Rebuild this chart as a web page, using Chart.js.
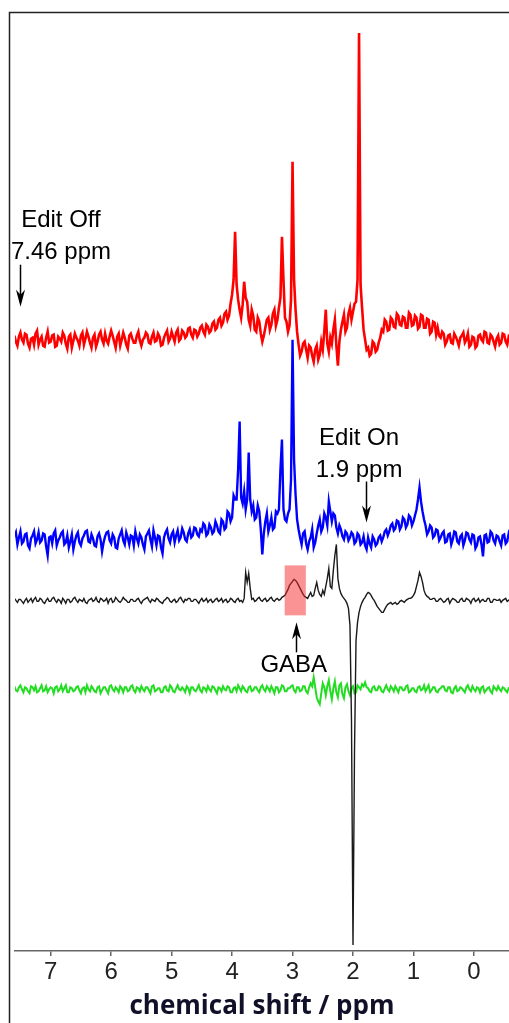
<!DOCTYPE html>
<html>
<head>
<meta charset="UTF-8">
<title>Edited MRS spectra</title>
<script src="https://cdn.jsdelivr.net/npm/chart.js@4"></script>
<style>
  html, body { margin: 0; padding: 0; background: #fff; }
  #wrap { width: 509px; height: 1023px; position: relative; }
</style>
</head>
<body>
<div id="wrap"><canvas id="chart"></canvas></div>
<script>
// sampling points of the spectra (ppm)
const ppm = [
  7.6,7.575,7.55,7.525,7.5,7.475,7.45,7.425,7.4,7.375,7.35,7.325,7.3,7.275,7.25,7.225,7.2,7.175,7.15,7.125,7.1,7.075,7.05,7.025,7,6.975,6.95,6.925,6.9,6.875,6.85,6.825,6.8,6.775,6.75,6.725,6.7,6.675,6.65,6.625,
  6.6,6.575,6.55,6.525,6.5,6.475,6.45,6.425,6.4,6.375,6.35,6.325,6.3,6.275,6.25,6.225,6.2,6.175,6.15,6.125,6.1,6.075,6.05,6.025,6,5.975,5.95,5.925,5.9,5.875,5.85,5.825,5.8,5.775,5.75,5.725,5.7,5.675,5.65,5.625,
  5.6,5.575,5.55,5.525,5.5,5.475,5.45,5.425,5.4,5.375,5.35,5.325,5.3,5.275,5.25,5.225,5.2,5.175,5.15,5.125,5.1,5.075,5.05,5.025,5,4.975,4.95,4.925,4.9,4.875,4.85,4.825,4.8,4.775,4.75,4.725,4.7,4.675,4.65,4.625,
  4.6,4.575,4.55,4.525,4.5,4.475,4.45,4.425,4.4,4.375,4.35,4.325,4.3,4.275,4.25,4.225,4.2,4.175,4.15,4.125,4.1,4.075,4.05,4.025,4,3.975,3.95,3.925,3.9,3.875,3.85,3.825,3.8,3.775,3.75,3.725,3.7,3.675,3.65,3.625,
  3.6,3.575,3.55,3.525,3.5,3.475,3.45,3.425,3.4,3.375,3.35,3.325,3.3,3.275,3.25,3.225,3.2,3.175,3.15,3.125,3.1,3.075,3.05,3.025,3,2.975,2.95,2.925,2.9,2.875,2.85,2.825,2.8,2.775,2.75,2.725,2.7,2.675,2.65,2.625,
  2.6,2.575,2.55,2.525,2.5,2.475,2.45,2.425,2.4,2.375,2.35,2.325,2.3,2.275,2.25,2.225,2.2,2.175,2.15,2.125,2.1,2.075,2.05,2.025,2,1.975,1.95,1.925,1.9,1.875,1.85,1.825,1.8,1.775,1.75,1.725,1.7,1.675,1.65,1.625,
  1.6,1.575,1.55,1.525,1.5,1.475,1.45,1.425,1.4,1.375,1.35,1.325,1.3,1.275,1.25,1.225,1.2,1.175,1.15,1.125,1.1,1.075,1.05,1.025,1,0.975,0.95,0.925,0.9,0.875,0.85,0.825,0.8,0.775,0.75,0.725,0.7,0.675,0.65,0.625,
  0.6,0.575,0.55,0.525,0.5,0.475,0.45,0.425,0.4,0.375,0.35,0.325,0.3,0.275,0.25,0.225,0.2,0.175,0.15,0.125,0.1,0.075,0.05,0.025,0,-0.025,-0.05,-0.075,-0.1,-0.125,-0.15,-0.175,-0.2,-0.225,-0.25,-0.275,-0.3,-0.325,-0.35,-0.375,
  -0.4,-0.425,-0.45,-0.475,-0.5,-0.525,-0.55,-0.575,-0.6
];

// intensities, relative to each trace's own baseline
const editOff = [
  4,-2,-6,3,7,0,-3,6,5,-4,-8,1,2,-5,6,9,-5,0,3,-6,-7,2,8,-3,-2,4,5,-7,-6,3,1,-2,7,4,-4,-9,3,5,-8,-1,
  6,2,-1,-6,4,7,-5,1,8,3,-3,-8,2,5,-7,-2,5,8,0,-4,6,-1,-4,3,9,4,-2,-8,3,6,-6,0,7,2,-5,-9,4,6,1,-3,
  -3,4,8,-1,-6,0,2,7,5,-3,-4,3,7,-2,-1,6,3,-6,-5,2,6,9,-2,1,8,3,-2,7,10,-1,1,9,7,2,4,11,12,5,2,10,
  9,3,6,12,14,8,5,15,13,7,9,16,18,10,12,20,22,14,17,26,28,20,24,36,45,60,108,55,40,30,22,35,58,42,38,20,14,30,24,10,
  8,22,18,6,-2,4,12,20,22,10,15,26,30,14,20,32,42,103,60,22,18,8,14,40,178,60,30,8,-5,-16,-12,-4,-2,-10,-18,-6,-8,-16,-22,-10,
  -6,-20,-15,-2,-10,8,30,-4,-12,2,-4,10,20,-6,-26,-2,10,18,25,8,12,26,32,20,28,36,38,60,307,55,32,10,0,-10,-8,-16,-14,-2,-4,-12,
  -10,-3,2,10,8,20,18,9,10,22,20,13,12,26,24,15,14,23,22,12,12,27,25,14,15,24,22,11,13,25,24,12,12,21,20,6,8,18,17,5,
  12,4,2,8,6,-5,-2,4,5,-3,-4,6,3,-1,-6,2,4,7,-3,0,6,-7,-5,3,2,-8,-6,4,5,0,-2,8,7,-3,-4,5,3,-2,-7,1,
  4,-5,-3,6,5,-2,-5,3,1
];
const editOn = [
  3,7,-5,2,8,-4,-2,5,6,-6,-9,1,4,8,-4,0,7,-3,-1,6,5,-7,-16,2,3,-4,6,9,-6,-1,2,6,8,-5,-3,4,-8,-2,5,-10,
  -2,4,7,-3,-6,1,4,8,9,-2,-3,5,1,-6,-7,3,6,0,-12,-3,3,7,8,-1,-4,5,2,-8,-9,1,5,9,-1,-5,7,2,-5,4,3,-6,
  8,1,-4,5,2,-5,-10,3,6,9,0,-7,9,2,-6,4,3,-8,-14,2,7,10,1,-3,5,8,-3,4,9,-1,2,11,7,0,-2,6,10,2,4,12,
  11,5,3,10,8,16,14,4,6,15,12,6,8,18,14,8,6,20,18,10,12,28,26,18,22,44,40,40,70,118,42,36,48,30,40,87,40,28,34,20,
  22,34,28,10,-15,6,18,26,8,14,22,10,12,28,26,30,70,100,30,20,18,26,30,60,200,80,45,20,10,2,-5,6,8,-4,-10,-2,2,10,-8,-3,
  6,14,20,8,12,26,22,14,38,28,18,26,24,12,6,14,10,3,0,8,6,-1,2,7,5,-4,-2,6,4,-5,-3,3,-6,-10,2,-4,-8,3,0,-6,
  -4,2,4,-2,2,8,10,4,8,14,16,9,11,19,18,10,13,22,20,12,15,24,22,14,18,24,30,40,52,38,28,20,14,5,8,14,12,2,4,10,
  9,-1,2,6,8,-3,-2,5,6,-5,0,8,7,-2,-4,3,5,-6,-1,7,6,0,-3,5,4,-9,-6,2,3,-5,-17,4,5,-3,-2,8,6,-1,-4,4,
  3,-2,-6,4,5,-4,-2,6,2
];
const difference = [
  2,0,-2,1,1,-1,-3,0,2,-2,0,2,-2,1,3,-1,-1,2,1,-2,-3,0,2,-1,-1,2,3,0,-2,1,0,-3,2,0,-3,1,1,-2,-1,2,
  3,0,-2,1,0,-1,2,-2,-3,0,1,2,-1,0,3,-1,-2,2,1,-1,0,2,-3,1,2,-2,-1,3,1,-1,-2,0,3,1,0,-2,-2,1,1,-1,
  -1,1,2,-1,-3,0,1,2,3,0,-2,1,0,-1,2,1,-1,-2,-3,0,1,3,2,-1,-2,0,1,-2,-1,2,3,0,-2,1,0,2,2,-1,-1,1,
  1,-1,-3,0,2,-1,0,2,-2,0,1,-2,-1,1,2,-1,0,2,-2,0,1,-2,-1,2,1,-1,-2,1,2,-1,0,-2,2,28,18,27,12,1,2,-1,
  0,2,3,0,-1,1,2,-1,0,2,3,0,-1,1,2,0,1,3,4,5,8,11,15,17,19,21,20,18,15,12,9,6,4,3,2,5,8,4,5,12,
  18,10,6,4,10,6,14,22,32,14,12,30,45,56,22,12,7,4,2,0,-3,-8,-25,-120,-345,-150,-40,-22,-12,-6,-2,1,3,6,8,7,5,2,0,-3,
  -6,-8,-10,-12,-12,-9,-6,-4,-3,-2,-4,-3,-2,-4,-3,-1,0,-1,-2,0,1,2,2,3,5,8,14,20,28,24,18,10,6,4,3,1,1,2,2,-1,
  -1,1,2,0,-2,-1,1,2,-3,0,2,1,0,-2,-2,1,2,-1,-1,2,1,0,-3,1,2,-1,0,2,-2,0,1,-1,-1,2,2,-2,-2,1,1,0,
  0,1,-2,0,1,2,-1,0,2
];
const residual = [
  3,-1,-2,2,4,0,-3,2,1,-2,-4,3,2,-1,3,-3,-2,1,4,-2,-1,3,-3,0,2,1,-4,2,3,-2,0,4,-2,1,4,-3,-3,2,1,-2,
  -1,2,3,-1,-4,1,2,-3,4,0,-2,3,1,-2,-3,2,3,-4,-1,2,2,-1,-4,3,4,0,-2,2,0,-3,3,1,-3,2,2,-2,-1,3,4,-1,
  -3,2,1,-2,3,0,-2,2,2,-1,-4,3,4,-2,-1,1,1,-3,-3,2,3,-1,-2,4,2,-2,-3,1,4,0,-1,2,0,-3,3,1,-4,2,2,-1,
  -2,1,4,-1,-3,2,1,-2,3,0,-2,3,2,-1,-4,2,1,-2,3,0,-1,3,2,-3,-3,1,2,-2,4,1,-2,3,1,-2,-3,2,3,-2,-1,2,
  2,-1,-3,2,4,0,-2,3,1,-2,3,0,-4,2,2,-3,-1,4,3,-2,-2,1,1,3,4,-1,-3,2,2,-2,-1,3,3,-2,-4,2,6,3,12,2,
  -8,-12,-15,-4,6,2,-6,3,9,-2,-10,1,8,-3,-8,4,6,-5,-9,2,5,-2,-6,1,3,-4,-3,4,2,0,5,3,7,2,1,-2,-3,2,3,-1,
  -1,3,2,-2,-3,1,4,0,-2,3,1,-2,3,0,-3,2,2,-1,-1,3,4,-3,-2,1,1,-2,-3,2,3,-1,0,4,-2,1,4,-3,-1,2,2,-2,
  -3,0,1,3,3,-1,-2,2,2,-3,-4,1,3,-2,-1,2,1,-1,-3,2,4,0,-2,3,0,-2,2,1,-3,2,3,-3,-1,1,2,-2,-4,3,1,-1,
  3,0,-2,2,1,-1,-3,1,2
];

// vertical stacking of the traces
const offsets = { editOff: 612, editOn: 412, difference: 351, residual: 262 };
const xTicks = [7, 6, 5, 4, 3, 2, 1, 0];

const notes = [
  { lines: ["Edit Off", "7.46 ppm"], ppm: 6.83, y: 725 },
  { lines: ["Edit On", "1.9 ppm"], ppm: 1.9, y: 507 },
  { lines: ["GABA"], ppm: 2.98, y: 279 },
];
const arrows = [
  { ppm: 7.5, from: 687, to: 645 },
  { ppm: 1.79, from: 470, to: 429 },
  { ppm: 2.94, from: 299, to: 329 },
];
const gabaBox = { from: 3.13, to: 2.78, low: 336, high: 386 };

const toPoints = (vals, off) => {
  if (vals.length !== ppm.length) throw new Error("length " + vals.length + " vs " + ppm.length);
  return vals.map((v, i) => ({ x: ppm[i], y: v + off }));
};

const annotate = {
  id: "annotate",
  afterDatasetsDraw(chart) {
    const { ctx, scales: { x, y } } = chart;
    ctx.save();
    const bx = x.getPixelForValue(gabaBox.from), bx2 = x.getPixelForValue(gabaBox.to);
    const by = y.getPixelForValue(gabaBox.high), by2 = y.getPixelForValue(gabaBox.low);
    ctx.fillStyle = "rgba(245, 40, 40, 0.5)";
    ctx.fillRect(bx, by, bx2 - bx, by2 - by);

    ctx.strokeStyle = "#000";
    ctx.fillStyle = "#000";
    ctx.lineWidth = 1.5;
    arrows.forEach((a) => {
      const ax = Math.round(x.getPixelForValue(a.ppm)) + 0.5;
      const y0 = y.getPixelForValue(a.from), y1 = y.getPixelForValue(a.to);
      const dir = Math.sign(y1 - y0);
      ctx.beginPath();
      ctx.moveTo(ax, y0);
      ctx.lineTo(ax, y1 - dir * 10);
      ctx.stroke();
      ctx.beginPath();
      ctx.moveTo(ax, y1);
      ctx.lineTo(ax - 4.5, y1 - dir * 17);
      ctx.lineTo(ax, y1 - dir * 12);
      ctx.lineTo(ax + 4.5, y1 - dir * 17);
      ctx.closePath();
      ctx.fill();
    });

    ctx.font = '24px "Liberation Sans", Arial, sans-serif';
    ctx.textAlign = "center";
    ctx.textBaseline = "alphabetic";
    notes.forEach((n) => {
      const tx = x.getPixelForValue(n.ppm);
      const ty = y.getPixelForValue(n.y);
      n.lines.forEach((t, k) => ctx.fillText(t, tx, ty + k * 32));
    });
    ctx.restore();
  },
};

const frame = {
  id: "frame",
  afterDraw(chart) {
    const { ctx, chartArea } = chart;
    ctx.save();
    ctx.strokeStyle = "#222";
    ctx.lineWidth = 1.5;
    ctx.beginPath();
    ctx.moveTo(chartArea.left - 5.5, chart.height);
    ctx.lineTo(chartArea.left - 5.5, chartArea.top + 0.5);
    ctx.lineTo(chart.width, chartArea.top + 0.5);
    ctx.stroke();
    ctx.restore();
  },
};

new Chart(document.getElementById("chart"), {
  type: "line",
  data: {
    datasets: [
      { label: "Edit Off", data: toPoints(editOff, offsets.editOff), borderColor: "#ff0000", borderWidth: 2.6, order: 4 },
      { label: "Edit On", data: toPoints(editOn, offsets.editOn), borderColor: "#0000ff", borderWidth: 2.4, order: 3 },
      { label: "Difference", data: toPoints(difference, offsets.difference), borderColor: "#1a1a1a", borderWidth: 1.4, order: 1 },
      { label: "Residual", data: toPoints(residual, offsets.residual), borderColor: "#22dd22", borderWidth: 2, order: 2 },
    ],
  },
  options: {
    responsive: true,
    maintainAspectRatio: false,
    animation: false,
    elements: { point: { radius: 0 }, line: { tension: 0 } },
    layout: { padding: { left: 15, right: 0, top: 12, bottom: 1 } },
    plugins: { legend: { display: false }, tooltip: { enabled: false } },
    scales: {
      x: {
        type: "linear",
        reverse: true,
        min: -0.58,
        max: 7.59,
        afterBuildTicks: (s) => { s.ticks = xTicks.map((v) => ({ value: v })); },
        ticks: {
          color: "#222",
          font: { family: '"Liberation Sans", Arial, sans-serif', size: 24 },
          padding: 2,
          maxRotation: 0,
          autoSkip: false,
        },
        grid: { drawOnChartArea: false, drawTicks: true, tickLength: 5, color: "#666", lineWidth: 1.5 },
        border: { display: true, color: "#666", width: 1.5 },
        title: {
          display: true,
          text: "chemical shift / ppm",
          color: "#101028",
          font: { family: '"Open Sans", sans-serif', size: 26, weight: "bold" },
          padding: { top: 2, bottom: 0 },
        },
      },
      y: { display: false, min: 0, max: 940 },
    },
  },
  plugins: [annotate, frame],
});
</script>
</body>
</html>
